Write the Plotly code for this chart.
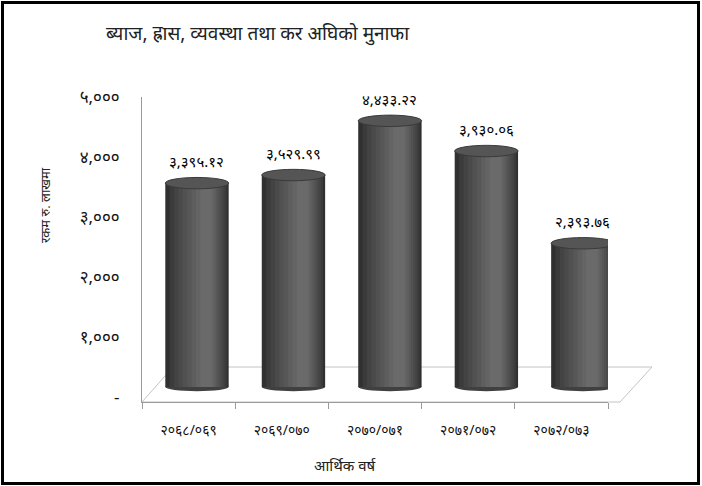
import numpy as np
import plotly.graph_objects as go

# ---- data ----
categories = ["२०६८/०६९", "२०६९/०७०", "२०७०/०७१", "२०७१/०७२", "२०७२/०७३"]
values = [3395.12, 3529.99, 4433.22, 3930.06, 2393.76]
value_labels = ["३,३९५.१२", "३,५२९.९९", "४,४३३.२२", "३,९३०.०६", "२,३९३.७६"]
y_tickvals = [0, 1000, 2000, 3000, 4000, 5000]
y_ticktext = ["-", "१,०००", "२,०००", "३,०००", "४,०००", "५,०००"]
title_text = "ब्याज, ह्रास, व्यवस्था तथा कर अघिको मुनाफा"
x_title = "आर्थिक वर्ष"
y_title = "रकम रु. लाखमा"

# ---- layout geometry ----
W, H = 702, 486
L, R, T, B = 142, 94, 97, 84
plot_w = W - L - R
plot_h = H - T - B
FONT = "Noto Sans, Lato, sans-serif"
Y_RANGE = [-80, 5000]
DEPTH = 170  # 3D depth offset of the bar plane (value units)


def pxx(px):
    return (px - L) / plot_w


def pxy(py):
    return (H - B - py) / plot_h


n = len(categories)
idx = np.arange(n)
xpos = idx * 1.035 + 0.09  # perspective drift of the 3D bars
bw = 0.68

fig = go.Figure()

# invisible anchor trace so the front value axis (y) is drawn
fig.add_trace(go.Scatter(x=xpos, y=values, yaxis="y", mode="markers",
                         marker=dict(opacity=0), hoverinfo="skip", showlegend=False))

# cylinder body as nested overlaid bars (dark edges -> highlight)
layers = 9
hl = 0.12
dark = np.array([0x30, 0x30, 0x30])
light = np.array([0x70, 0x70, 0x70])
for k in range(layers):
    s = k / layers
    left = -bw / 2 + s * (hl + bw / 2) * 0.92
    right = bw / 2 - s * (bw / 2 - hl) * 0.92
    c = (dark + (light - dark) * (s ** 0.8)).astype(int)
    col = "rgb(%d,%d,%d)" % tuple(c)
    fig.add_trace(go.Bar(
        x=xpos, y=values, base=0, yaxis="y2",
        offset=[left] * n, width=[right - left] * n,
        marker=dict(color=col, line=dict(width=0)),
        hoverinfo="skip", showlegend=False,
    ))

shapes = []
# 3D floor
shapes.append(dict(
    type="path", xref="paper", yref="paper", layer="below",
    path="M {} {} L {} {} L {} {} L {} {} Z".format(
        pxx(142), pxy(402), pxx(620), pxy(402), pxx(652), pxy(367), pxx(173), pxy(367)),
    line=dict(color="#c4c4c4", width=1), fillcolor="rgba(0,0,0,0)",
))
ell_top = 95
ell_bot = 70
for xc, v in zip(xpos, values):
    shapes.append(dict(type="circle", xref="x", yref="y2", layer="below",
                       x0=xc - bw / 2, x1=xc + bw / 2, y0=-ell_bot, y1=ell_bot,
                       fillcolor="#404040", line=dict(width=0)))
    shapes.append(dict(type="circle", xref="x", yref="y2", layer="above",
                       x0=xc - bw / 2, x1=xc + bw / 2, y0=v - ell_top, y1=v + ell_top,
                       fillcolor="#555555", line=dict(color="#3a3a3a", width=1)))
# outer black frame
shapes.append(dict(type="rect", xref="paper", yref="paper", layer="above",
                   x0=pxx(2.5), x1=pxx(698.5), y0=pxy(483.5), y1=pxy(2.5),
                   line=dict(color="black", width=3), fillcolor="rgba(0,0,0,0)"))

annotations = []
for xc, v, t in zip(xpos, values, value_labels):
    annotations.append(dict(x=xc, y=v, xref="x", yref="y2", text=t, showarrow=False,
                            yanchor="bottom", yshift=10,
                            font=dict(family=FONT, size=15, color="#000")))
annotations.append(dict(x=pxx(258), y=pxy(33), xref="paper", yref="paper", text=title_text,
                        showarrow=False, xanchor="center", yanchor="middle",
                        font=dict(family=FONT, size=19, color="#222")))
annotations.append(dict(x=pxx(345), y=pxy(465), xref="paper", yref="paper", text=x_title,
                        showarrow=False, xanchor="center", yanchor="middle",
                        font=dict(family=FONT, size=15, color="#222")))
annotations.append(dict(x=pxx(45), y=pxy(205), xref="paper", yref="paper", text=y_title,
                        showarrow=False, textangle=-90, xanchor="center", yanchor="middle",
                        font=dict(family=FONT, size=13, color="#222")))

fig.update_layout(
    width=W, height=H,
    margin=dict(l=L, r=R, t=T, b=B, pad=0),
    paper_bgcolor="white", plot_bgcolor="rgba(0,0,0,0)",
    barmode="overlay", showlegend=False,
    shapes=shapes, annotations=annotations,
    font=dict(family=FONT, color="#222"),
    xaxis=dict(
        range=[-0.5, n - 0.5], tickmode="array", tickvals=idx, ticktext=categories,
        ticks="", showgrid=False, zeroline=False, showline=True, linecolor="#9a9a9a", linewidth=1,
        tickfont=dict(family=FONT, size=14, color="#111"), ticklabelstandoff=15,
        minor=dict(tickmode="array", tickvals=list(np.arange(-0.5, n, 1.0)), ticks="outside",
                   ticklen=6, tickcolor="#9a9a9a", showgrid=False),
        fixedrange=True,
    ),
    yaxis=dict(
        range=Y_RANGE, tickmode="array", tickvals=y_tickvals, ticktext=y_ticktext,
        ticks="", showgrid=False, zeroline=False, showline=True, linecolor="#9a9a9a", linewidth=1,
        tickfont=dict(family=FONT, size=17, color="#111"), ticklabelstandoff=18,
        fixedrange=True,
    ),
    yaxis2=dict(overlaying="y", range=[Y_RANGE[0] - DEPTH, Y_RANGE[1] - DEPTH],
                showticklabels=False, showline=False, showgrid=False, zeroline=False,
                ticks="", fixedrange=True),
)

fig.write_html("out.html", config={"displayModeBar": False},
               post_script="document.body.style.margin='0px';")
